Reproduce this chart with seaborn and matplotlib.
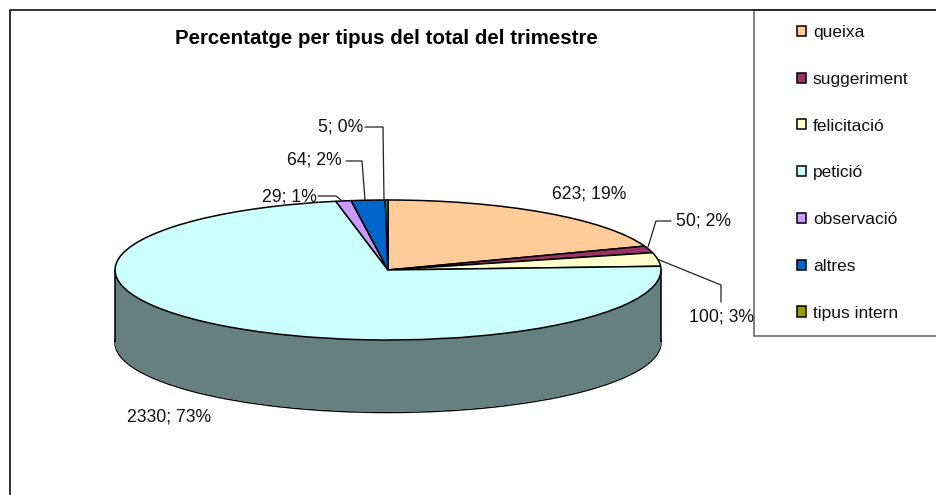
import numpy as np
import matplotlib
matplotlib.use("Agg")
import matplotlib.pyplot as plt
from matplotlib.patches import Rectangle
import seaborn as sns

categories = ['queixa', 'suggeriment', 'felicitació', 'petició', 'observació', 'altres', 'tipus intern']
values = [623, 50, 100, 2330, 29, 64, 5]
percents = [19, 2, 3, 73, 1, 2, 0]
hex_colors = ['#FFCC99', '#993366', '#FFFFCC', '#CCFFFF', '#CC99FF', '#0066CC', '#999900']

sns.set_theme(style='white')
plt.rcParams['font.family'] = ['Liberation Sans', 'DejaVu Sans']
palette = sns.color_palette(hex_colors)
side_colors = [tuple(c * 0.5 for c in col) for col in palette]

W, H = 936, 495
cx, cy, rx, ry, depth = 388, 270, 273, 70, 72

fig = plt.figure(figsize=(W / 100, H / 100), dpi=100, facecolor='white')

# pie axes: squashed so the circle turns into the ellipse
ax = fig.add_axes([0, 0, 1, 1])

# bottom outline first, the stack hides its back half
ax.pie([sum(values)], colors=['none'], startangle=90, center=(0, -(depth + 0.5) / ry),
       wedgeprops={'edgecolor': 'black', 'linewidth': 1.1})
# side of the cake, stacked copies of the pie
for d in np.arange(depth, 0, -1) / ry:
    ax.pie(values, colors=side_colors, startangle=90, counterclock=False, center=(0, -d),
           wedgeprops={'linewidth': 0})
wedges, _ = ax.pie(values, colors=palette, startangle=90, counterclock=False,
                   wedgeprops={'edgecolor': 'black', 'linewidth': 1.1})
ax.vlines([-1, 1], -depth / ry, 0, color='black', lw=1.1, zorder=2)
ax.set_aspect('auto')
ax.set_xlim(-cx / rx, (W - cx) / rx)
ax.set_ylim((cy - H) / ry, cy / ry)
ax.axis('off')

# overlay in pixels for frame, texts and leader lines
ov = fig.add_axes([0, 0, 1, 1])
ov.set_xlim(0, W)
ov.set_ylim(H, 0)
ov.axis('off')

ov.plot([9.5, 9.5, W], [H, 9.5, 9.5], color='#222222', lw=1.3)
ov.add_patch(Rectangle((753.5, 9.5), 200, 326, facecolor='white', edgecolor='#777777', lw=1.3, zorder=3))
ov.plot([753, W], [9.5, 9.5], color='#222222', lw=1.3, zorder=4)

ov.text(386, 38, 'Percentatge per tipus del total del trimestre', fontsize=14.75, fontweight='bold',
        ha='center', va='center', color='black')

label_pos = [(552, 194), (676, 221), (689, 317), (127, 417), (262, 197), (287, 160), (318, 127)]
for v, p, (x, y) in zip(values, percents, label_pos):
    ov.text(x, y, f'{v}; {p}%', fontsize=12.7, ha='left', va='center', color='#111111', zorder=5)

leaders = [
    ([648, 656, 671], [247, 221, 221]),
    ([657, 721, 721], [259, 285, 302]),
    ([365, 383, 384], [127, 127, 200]),
    ([346, 362, 365], [161, 161, 200]),
    ([318, 336, 341], [196, 196, 200]),
]
for xs, ys in leaders:
    ov.plot(xs, ys, color='#222222', lw=0.9)

leg = ov.legend(wedges, categories, loc='upper left', bbox_to_anchor=(797, 25), bbox_transform=ov.transData,
                frameon=False, fontsize=12.5, borderpad=0, borderaxespad=0, handlelength=0.52,
                handleheight=0.52, handletextpad=0.4, labelspacing=1.83, labelcolor='#111111')
leg.set_zorder(6)

fig.savefig('out.png', dpi=100)
